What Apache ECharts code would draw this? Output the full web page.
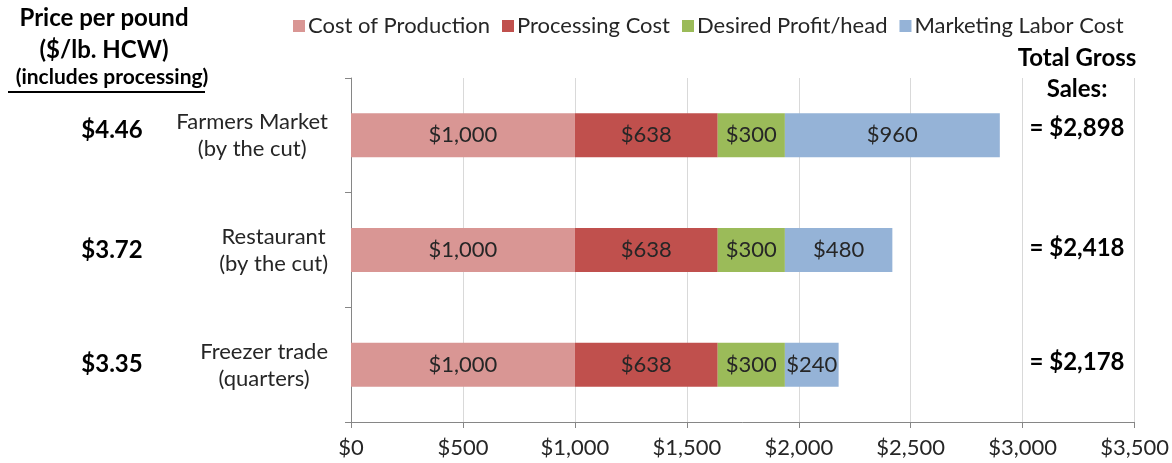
<!DOCTYPE html>
<html>
<head>
<meta charset="utf-8">
<script src="https://cdn.jsdelivr.net/npm/echarts@6/dist/echarts.min.js"></script>
<style>
  html, body { margin: 0; padding: 0; background: #fff; }
  #main { width: 1172px; height: 463px; }
</style>
</head>
<body>
<div id="main"></div>
<script>
// data (top to bottom)
var categories = ['Farmers Market\n(by the cut)', 'Restaurant\n(by the cut)', 'Freezer trade\n(quarters)'];
var prices = ['$4.46', '$3.72', '$3.35'];
var costProduction = [1000, 1000, 1000];
var processingCost = [638, 638, 638];
var desiredProfit = [300, 300, 300];
var marketingLabor = [960, 480, 240];
var totals = [2898, 2418, 2178];
var xTicks = [0, 500, 1000, 1500, 2000, 2500, 3000, 3500];

var FONT = 'Lato, "Open Sans", sans-serif';
var chart = echarts.init(document.getElementById('main'));

function money(v) {
  return '$' + v.toLocaleString('en-US');
}

function makeSeries(name, data, color) {
  return {
    name: name,
    type: 'bar',
    stack: 'total',
    barWidth: 44,
    data: data,
    itemStyle: { color: color },
    label: {
      show: true,
      position: 'inside',
      color: '#262626',
      fontFamily: FONT,
      fontSize: 22,
      formatter: function (p) { return money(p.value); }
    },
    emphasis: { disabled: true }
  };
}

chart.setOption({
  animation: false,
  textStyle: { fontFamily: FONT },
  legend: {
    top: 10,
    left: 288,
    itemWidth: 12,
    itemHeight: 12,
    itemGap: 12,
    icon: 'rect',
    textStyle: { fontSize: 22, color: '#262626', fontFamily: FONT, padding: [0, 0, 0, -2] },
    data: ['Cost of Production', 'Processing Cost', 'Desired Profit/head', 'Marketing Labor Cost']
  },
  grid: { left: 351, right: 36, top: 78, bottom: 41 },
  xAxis: {
    type: 'value',
    min: xTicks[0],
    max: xTicks[xTicks.length - 1],
    interval: 500,
    axisLine: { show: true, lineStyle: { color: '#868686' } },
    axisTick: { show: true, length: 6, lineStyle: { color: '#868686' } },
    splitLine: { show: true, lineStyle: { color: '#d9d9d9' } },
    axisLabel: {
      fontSize: 22, color: '#262626', fontFamily: FONT, margin: 15,
      formatter: function (v) { return money(v); }
    }
  },
  yAxis: {
    type: 'category',
    inverse: true,
    data: categories,
    axisLine: { show: true, lineStyle: { color: '#868686' } },
    axisTick: { show: true, length: 6, lineStyle: { color: '#868686' } },
    axisLabel: { show: false }
  },
  series: [
    makeSeries('Cost of Production', costProduction, '#d99694'),
    makeSeries('Processing Cost', processingCost, '#c0504d'),
    makeSeries('Desired Profit/head', desiredProfit, '#9bbb59'),
    makeSeries('Marketing Labor Cost', marketingLabor, '#95b3d7')
  ]
});

// measure text so the two-line category labels are right-aligned as a block, centred line by line
var ctx = document.createElement('canvas').getContext('2d');
function textWidth(t, font) {
  ctx.font = font;
  return ctx.measureText(t).width;
}

var bold = 'bold 24px ' + FONT;
var graphics = [
  { type: 'text', x: 104, y: 18, style: { text: 'Price per pound', font: bold, fill: '#000', align: 'center', verticalAlign: 'middle' } },
  { type: 'text', x: 104, y: 50, style: { text: '($/lb. HCW)', font: bold, fill: '#000', align: 'center', verticalAlign: 'middle' } },
  { type: 'text', x: 112, y: 77, style: { text: '(includes processing)', font: 'bold 21px ' + FONT, fill: '#000', align: 'center', verticalAlign: 'middle' } },
  { type: 'line', shape: { x1: 8, y1: 92, x2: 205, y2: 92 }, style: { stroke: '#000', lineWidth: 2 } },
  { type: 'text', x: 1077, y: 58, style: { text: 'Total Gross', font: bold, fill: '#000', align: 'center', verticalAlign: 'middle' } },
  { type: 'text', x: 1077, y: 89, style: { text: 'Sales:', font: bold, fill: '#000', align: 'center', verticalAlign: 'middle' } }
];
var catFont = '22px ' + FONT;
categories.forEach(function (c, i) {
  var y = chart.convertToPixel({ yAxisIndex: 0 }, i);
  var lines = c.split('\n');
  var w = Math.max.apply(null, lines.map(function (l) { return textWidth(l, catFont); }));
  var cx = 328 - w / 2;
  graphics.push({ type: 'text', x: cx, y: y - 13, style: { text: lines[0], font: catFont, fill: '#262626', align: 'center', verticalAlign: 'middle' } });
  graphics.push({ type: 'text', x: cx, y: y + 14, style: { text: lines[1], font: catFont, fill: '#262626', align: 'center', verticalAlign: 'middle' } });
  var lift = i === 0 ? 5 : 0;
  graphics.push({ type: 'text', x: 112, y: y - lift, style: { text: prices[i], font: bold, fill: '#000', align: 'center', verticalAlign: 'middle' } });
  graphics.push({ type: 'text', x: 1077, y: y - lift - 2, style: { text: '= ' + money(totals[i]), font: bold, fill: '#000', align: 'center', verticalAlign: 'middle' } });
});
chart.setOption({ graphic: graphics });
</script>
</body>
</html>
